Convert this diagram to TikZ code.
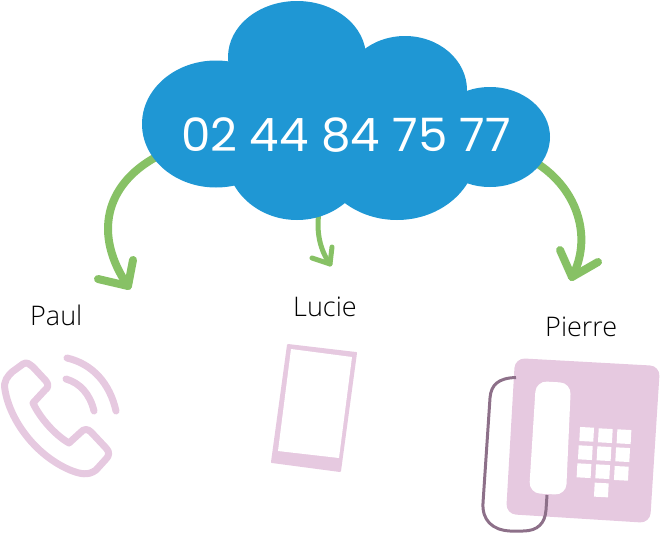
\documentclass[tikz,border=0pt]{standalone}
\usepackage{fontspec}
\setmainfont{Open Sans Light}
\newfontfamily\numfont{Poppins}
\definecolor{cloudblue}{HTML}{1F97D4}
\definecolor{arrowgreen}{HTML}{87C165}
\definecolor{iconpink}{HTML}{E6C9E0}
\definecolor{cordmauve}{HTML}{8D7089}
\tikzset{
  bigarrow/.style={draw=arrowgreen,line width=8pt,line cap=round,line join=round},
  smallarrow/.style={draw=arrowgreen,line width=5pt,line cap=round,line join=round},
  iconline/.style={draw=iconpink,line width=7pt,line cap=round,line join=round},
  namelabel/.style={anchor=base west,inner sep=0pt,font=\fontsize{27}{27}\selectfont,text=black},
  numlabel/.style={anchor=base west,inner sep=0pt,xscale=.935,yscale=.92,font=\numfont\fontsize{50}{50}\selectfont,text=white},
}
\begin{document}
\begin{tikzpicture}[x=1pt,y=-1pt]
\useasboundingbox (0,0) rectangle (660,533);
% arrows
\coordinate (la) at (156,157); \coordinate (lb) at (128,286);
\coordinate (ca) at (319,212); \coordinate (cb) at (330,264);
\coordinate (ra) at (535,162); \coordinate (rb) at (572,277);
\draw[bigarrow] (la) .. controls (105,185) and (93,235) .. (lb);
\draw[bigarrow] (98,279) -- (lb) -- (133,260);
\draw[smallarrow] (ca) .. controls (316,232) and (320,250) .. (cb);
\draw[smallarrow] (312,258) -- (cb) -- (332,247);
\draw[bigarrow] (ra) .. controls (580,190) and (592,240) .. (rb);
\draw[bigarrow] (560,250) -- (rb) -- (598,262);
% cloud
\fill[cloudblue] (216,124) ellipse [x radius=74,y radius=63.5];
\fill[cloudblue] (297,57) ellipse [x radius=69,y radius=56];
\fill[cloudblue] (405,90) ellipse [x radius=62,y radius=54];
\fill[cloudblue] (490,137) ellipse [x radius=60,y radius=50];
\fill[cloudblue] (297,155) ellipse [x radius=71,y radius=65];
\fill[cloudblue] (397,150) ellipse [x radius=80,y radius=70];
\fill[cloudblue] (230,90) rectangle (450,170);
\node[numlabel] (number) at (181,151) {02 44 84 75 77};
% labels
\node[namelabel] (paul) at (30,325) {Paul};
\node[namelabel] (lucie) at (293,316) {Lucie};
\node[namelabel] (pierre) at (545,336) {Pierre};
% handset icon
\draw[iconline] (23,364) .. controls (27,361) and (30,365) .. (33,367)
  -- (46,381) .. controls (49,385) and (48,388) .. (45,390)
  -- (33,403) .. controls (40,418) and (55,435) .. (69,443)
  -- (80,433) .. controls (84,428) and (88,429) .. (91,432)
  -- (106,448) .. controls (110,452) and (109,456) .. (106,459)
  -- (96,470) .. controls (88,476) and (80,474) .. (70,470)
  .. controls (35,455) and (10,420) .. (5,390)
  .. controls (3,381) and (8,376) .. (12,372) -- cycle;
\draw[iconline] (67,358) .. controls (93,364) and (110,384) .. (116,411);
\draw[iconline] (66,379) .. controls (80,383) and (90,394) .. (94,411);
% mobile icon
\fill[iconpink,draw=iconpink,line width=2pt,line join=round] (288,345) -- (356,353) -- (340,471) -- (272,462) -- cycle;
\fill[white] (291,349) -- (352,357) -- (339,458) -- (278,451) -- cycle;
% desk phone icon
\fill[iconpink,rounded corners=10pt] (515,358) -- (660,366) -- (650,523) -- (506,514) -- cycle;
\fill[white,rounded corners=11pt] (536,381) -- (571,383) -- (566,495) -- (529,493) -- cycle;
\foreach \bx/\by in {350/283,406/287,462/290,346/338,402/341,458/344,342/392,398/395,454/400,394/450}
  \fill[white,rotate around={-3:({470+\bx/3},{340+\by/3})}] ({470+\bx/3-7},{340+\by/3-7}) rectangle ({470+\bx/3+7},{340+\by/3+7});
\draw[cordmauve,line width=3pt] (516,377.5) .. controls (498,378) and (491,385) .. (490,398)
  -- (483,503) .. controls (482,520) and (492,530) .. (510,531)
  -- (523,531) .. controls (538,531) and (545,523) .. (546,510) -- (547,495);
\end{tikzpicture}
\end{document}
